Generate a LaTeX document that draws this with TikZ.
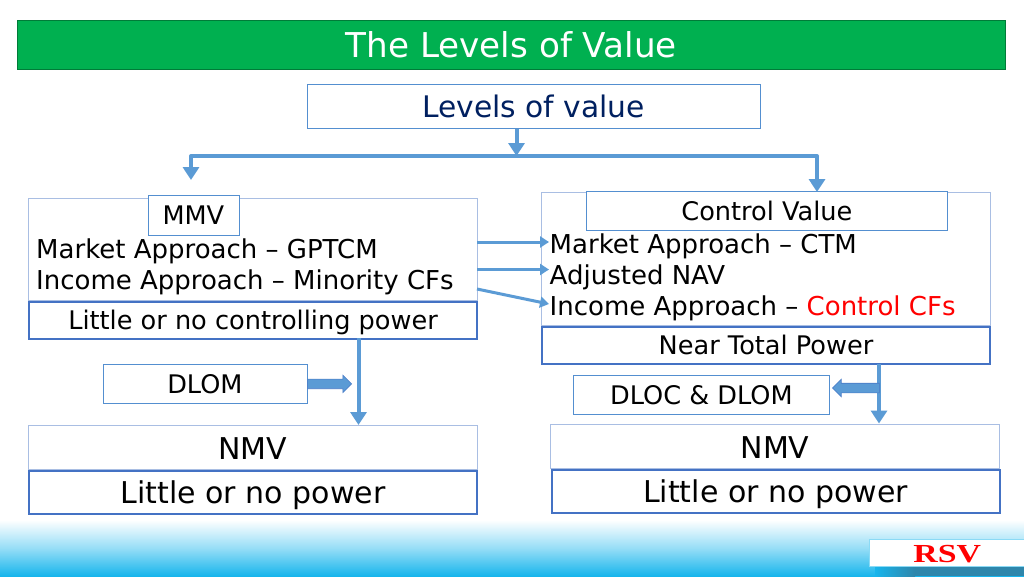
\documentclass[tikz,border=0pt]{standalone}
\usepackage{fontspec}
\setmainfont{DejaVu Sans}
\newfontfamily\rsvfont{Liberation Serif}
\usetikzlibrary{arrows.meta,shapes.arrows,positioning}
\definecolor{barGreen}{HTML}{00B050}
\definecolor{lineBlue}{HTML}{5B9BD5}
\definecolor{edgeLight}{HTML}{A9BEE3}
\definecolor{edgeDark}{HTML}{4472C4}
\definecolor{navyText}{HTML}{002060}
\definecolor{skyBlue}{HTML}{17B5EC}
\definecolor{tealBar}{HTML}{2E86AB}
\tikzset{
  x=1pt,y=-1pt,
  lightbox/.style={draw=edgeLight,line width=1pt,fill=white,inner sep=0pt,text=black,anchor=north west},
  thinbox/.style={draw=lineBlue!70!edgeDark,line width=0.8pt,fill=white,inner sep=0pt,text=black,anchor=north west},
  strongbox/.style={draw=edgeDark,line width=2pt,fill=white,inner sep=0pt,text=black,anchor=north west},
  conn/.style={draw=lineBlue,line width=4pt},
  connhead/.style={conn,-{Triangle[length=13pt,width=16pt]}},
  smallconn/.style={draw=lineBlue,line width=3pt,-{Triangle[length=9pt,width=11pt]}},
  blockarrow/.style={single arrow,draw=edgeDark!80!lineBlue,line width=0.6pt,fill=lineBlue,
    single arrow head extend=4pt,single arrow tip angle=90,inner xsep=0pt,inner ysep=4.5pt,minimum height=44pt},
  txt/.style={inner sep=0pt,anchor=base west,text=black,font=\fontsize{26}{26}\selectfont},
  midfont/.style={font=\fontsize{25.6}{26}\selectfont},
  bigfont/.style={font=\fontsize{30}{30}\selectfont},
  nodepth/.style={text depth=0pt},
}
\begin{document}
\begin{tikzpicture}
\useasboundingbox (0,0) rectangle (1024,576);
\fill[white] (0,0) rectangle (1024,576);
% footer band
\shade[top color=white,bottom color=skyBlue,middle color=skyBlue!45] (0,520) rectangle (1024,576);
\shade[left color=skyBlue,right color=tealBar] (875,566) rectangle (915,576);
\fill[tealBar] (915,566) rectangle (1024,576);
\node[fill=white,draw=skyBlue!50,line width=0.5pt,minimum width=156pt,minimum height=27pt,anchor=north west,inner sep=0pt,
  text=red,text height=20pt,text depth=0pt] (logo) at (869,539) {\rsvfont\bfseries\fontsize{26}{26}\selectfont\scalebox{1.3}[1]{RSV}};
% title bar
\node[draw=barGreen!70!black,line width=0.5pt,fill=barGreen,minimum width=988pt,minimum height=49pt,anchor=north west,inner sep=0pt,
  text=white,font=\fontsize{34.2}{34.2}\selectfont] (title) at (17,20) {The Levels of Value};
% top box
\node[thinbox,minimum width=453pt,minimum height=44pt,text=navyText,font=\fontsize{29.7}{30}\selectfont] (levels) at (306.5,84) {Levels of value};
% left group
\node[lightbox,minimum width=449pt,minimum height=102pt] (mmvarea) at (27.5,197.5) {};
\node[thinbox,minimum width=91pt,minimum height=40pt,midfont] (mmv) at (147.5,195) {MMV};
\node[txt] (l1) at (36,258) {Market Approach – GPTCM};
\node[txt] (l2) at (36,289) {Income Approach – Minority CFs};
\node[strongbox,minimum width=448pt,minimum height=37pt,midfont,nodepth] (lpower) at (28,300.5) {Little or no controlling power};
% right group
\node[lightbox,minimum width=449pt,minimum height=133pt] (ctlarea) at (540.5,192) {};
\node[thinbox,minimum width=361pt,minimum height=39pt,midfont] (ctl) at (586,191) {Control Value};
\node[txt] (r1) at (549.5,253) {Market Approach – CTM};
\node[txt] (r2) at (549.5,284) {Adjusted NAV};
\node[txt] (r3) at (549.5,315) {Income Approach – \textcolor{red}{Control CFs}};
\node[strongbox,minimum width=448pt,minimum height=37pt,midfont] (rpower) at (541,325.5) {Near Total Power};
% discount boxes
\node[thinbox,minimum width=204pt,minimum height=39pt,midfont] (dlom) at (102.5,364) {DLOM};
\node[thinbox,minimum width=256pt,minimum height=39pt,midfont] (dloc) at (573,375) {DLOC \& DLOM};
% bottom left
\node[lightbox,minimum width=449pt,minimum height=44pt,bigfont,text height=24pt] (nmvl) at (27.5,425) {NMV};
\node[strongbox,minimum width=448pt,minimum height=43pt,bigfont,nodepth] (lnl) at (28,470) {Little or no power};
% bottom right
\node[lightbox,minimum width=449pt,minimum height=44pt,bigfont,text height=24pt] (nmvr) at (550,423.5) {NMV};
\node[strongbox,minimum width=448pt,minimum height=43pt,bigfont,nodepth] (lnr) at (550.5,468.5) {Little or no power};
% connectors
\coordinate (hubtop) at (516.5,156);
\coordinate (hubl) at (191,156);
\coordinate (hubr) at (817,156);
\coordinate (endl) at (191,180);
\coordinate (endr) at (817,192);
\draw[conn,line cap=round] (hubl) -- (hubr);
\draw[connhead] (levels.south -| hubtop) -- (hubtop);
\draw[connhead] (hubl) -- (endl);
\draw[connhead] (hubr) -- (endr);
\coordinate (a1) at (477,242);
\coordinate (b1) at (549,242);
\coordinate (a2) at (477,269.5);
\coordinate (b2) at (549,269.5);
\coordinate (a3) at (477,289);
\coordinate (b3) at (549,304);
\draw[smallconn] (a1) -- (b1);
\draw[smallconn] (a2) -- (b2);
\draw[smallconn] (a3) -- (b3);
\coordinate (lv) at (358.5,338);
\coordinate (rv) at (879,364);
\draw[connhead] (lv) -- (lv |- nmvl.north);
\draw[connhead] (rv) -- (rv |- nmvr.north);
\node[blockarrow,anchor=tail] (barrowl) at (dlom.east) {};
\node[blockarrow,shape border rotate=180,minimum height=47pt,anchor=tip] (barrowr) at (832,388) {};
\end{tikzpicture}
\end{document}
